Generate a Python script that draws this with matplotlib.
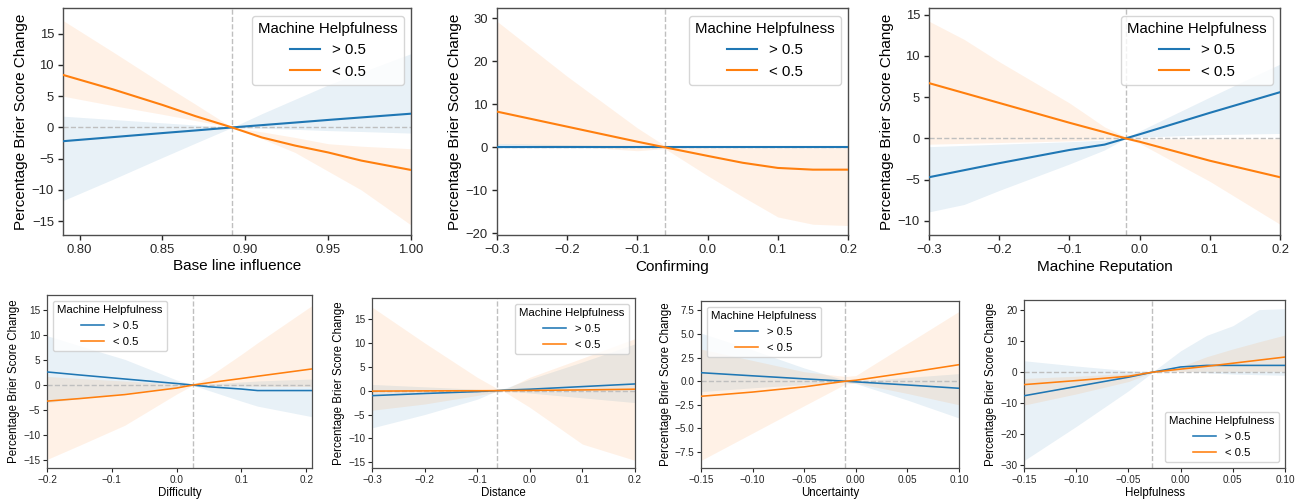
import matplotlib
matplotlib.use("Agg")
import matplotlib.pyplot as plt
from matplotlib.ticker import MultipleLocator

plt.rcParams['font.family'] = ['Liberation Sans', 'DejaVu Sans']

BLUE = '#1f77b4'
ORANGE = '#ff7f0e'
series_labels = ['> 0.5', '< 0.5']
legend_title = 'Machine Helpfulness'
y_label = 'Percentage Brier Score Change'

# ---------------- Panel 1: Base line influence ----------------
base_x = [0.79, 0.82, 0.85, 0.87, 0.892, 0.91, 0.93, 0.95, 0.97, 1.00]
base_hi_y = [-2.2, -1.55, -0.9, -0.48, 0.0, 0.37, 0.78, 1.2, 1.6, 2.2]
base_hi_lo = [-11.7, -8.3, -4.8, -2.5, 0.0, -0.15, -0.3, -0.5, -0.65, -0.9]
base_hi_up = [1.8, 1.27, 0.74, 0.39, 0.0, 2.2, 4.5, 6.8, 8.8, 11.8]
base_lo_y = [8.4, 6.1, 3.6, 1.8, 0.0, -1.6, -2.9, -4.0, -5.3, -6.8]
base_lo_lo = [5.0, 3.5, 2.1, 1.1, 0.0, -1.8, -4.0, -7.0, -10.0, -15.6]
base_lo_up = [17.1, 12.1, 7.0, 3.7, 0.0, -0.7, -1.6, -2.6, -3.0, -3.4]

# ---------------- Panel 2: Confirming ----------------
conf_x = [-0.3, -0.2, -0.1, -0.061, 0.0, 0.05, 0.1, 0.15, 0.2]
conf_hi_y = [0.0, 0.0, 0.0, 0.0, 0.0, 0.0, 0.0, 0.0, 0.0]
conf_hi_lo = [-0.1, -0.1, -0.05, -0.02, -0.05, -0.05, -0.05, -0.05, -0.05]
conf_hi_up = [0.9, 0.6, 0.25, 0.05, 0.05, 0.05, 0.05, 0.05, 0.05]
conf_lo_y = [8.3, 4.8, 1.3, 0.0, -2.0, -3.6, -4.8, -5.2, -5.2]
conf_lo_lo = [0.8, 0.3, -0.8, -0.3, -6.6, -11.5, -16.2, -17.9, -18.2]
conf_lo_up = [29.3, 16.5, 4.5, 0.4, -0.1, -0.1, -0.1, -0.1, -0.1]

# ---------------- Panel 3: Machine Reputation ----------------
rep_x = [-0.3, -0.25, -0.2, -0.1, -0.05, -0.02, 0.0, 0.1, 0.2]
rep_hi_y = [-4.7, -3.85, -3.0, -1.4, -0.75, 0.0, 0.5, 3.1, 5.6]
rep_hi_lo = [-8.9, -8.0, -6.3, -3.1, -1.4, 0.0, 0.15, 0.45, 0.6]
rep_hi_up = [-1.0, -0.85, -0.7, -0.4, -0.2, 0.0, 0.9, 5.0, 9.0]
rep_lo_y = [6.7, 5.5, 4.3, 1.9, 0.75, 0.0, -0.4, -2.7, -4.7]
rep_lo_lo = [-0.7, -0.6, -0.5, -0.3, -0.1, -0.05, -0.6, -5.2, -10.4]
rep_lo_up = [14.2, 12.0, 9.3, 4.3, 1.4, 0.2, -0.05, -0.05, -0.05]

# ---------------- Panel 4: Difficulty ----------------
diff_x = [-0.2, -0.15, -0.08, 0.0, 0.025, 0.05, 0.1, 0.125, 0.209]
diff_hi_y = [2.6, 2.0, 1.2, 0.3, 0.0, -0.35, -0.8, -1.1, -1.1]
diff_hi_lo = [-3.5, -2.7, -1.6, -0.4, -0.05, -1.1, -3.2, -4.2, -6.3]
diff_hi_up = [9.8, 7.8, 5.1, 1.0, 0.05, 0.2, 0.6, 0.8, 1.2]
diff_lo_y = [-3.2, -2.7, -1.9, -0.6, 0.0, 0.45, 1.3, 1.75, 3.2]
diff_lo_lo = [-14.8, -12.0, -8.0, -1.8, -0.05, -0.1, -0.2, -0.25, -0.3]
diff_lo_up = [1.7, 1.3, 0.8, 0.2, 0.05, 1.7, 6.1, 8.4, 15.8]

# ---------------- Panel 5: Distance ----------------
dist_x = [-0.3, -0.2, -0.1, -0.063, -0.05, 0.0, 0.1, 0.2]
dist_hi_y = [-1.05, -0.6, -0.2, 0.0, 0.1, 0.3, 0.85, 1.4]
dist_hi_lo = [-7.8, -5.0, -1.8, -0.05, 0.0, -0.5, -1.5, -2.5]
dist_hi_up = [1.3, 0.8, 0.3, 0.05, 0.4, 2.4, 6.0, 9.8]
dist_lo_y = [-0.1, -0.05, -0.02, 0.0, 0.02, 0.05, 0.15, 0.3]
dist_lo_lo = [-4.1, -2.8, -1.0, -0.3, -0.1, -3.5, -11.2, -14.6]
dist_lo_up = [17.5, 10.0, 2.8, 0.5, 0.1, 2.8, 6.8, 10.9]

# ---------------- Panel 6: Uncertainty ----------------
unc_x = [-0.15, -0.1, -0.05, -0.01, 0.0, 0.05, 0.1]
unc_hi_y = [0.9, 0.57, 0.25, 0.0, -0.07, -0.4, -0.75]
unc_hi_lo = [-1.1, -0.7, -0.35, -0.1, -0.25, -2.0, -3.9]
unc_hi_up = [5.1, 3.3, 1.4, 0.1, 0.0, 0.4, 0.8]
unc_lo_y = [-1.6, -1.15, -0.6, 0.0, 0.1, 0.9, 1.75]
unc_lo_lo = [-8.4, -5.5, -2.6, -0.3, -0.2, -1.3, -2.5]
unc_lo_up = [3.4, 2.2, 1.0, 0.5, 0.6, 4.0, 7.4]

# ---------------- Panel 7: Helpfulness ----------------
help_x = [-0.15, -0.1, -0.05, -0.027, 0.0, 0.025, 0.05, 0.075, 0.1]
help_hi_y = [-7.6, -4.6, -1.6, 0.0, 1.7, 2.2, 2.2, 2.2, 2.2]
help_hi_lo = [-28.5, -17.5, -6.0, -0.05, 0.5, -0.2, -0.6, -0.8, -1.0]
help_hi_up = [3.7, 2.0, 0.5, 0.05, 6.9, 11.9, 15.0, 20.2, 20.5]
help_lo_y = [-4.0, -2.7, -1.3, 0.0, 1.0, 1.9, 2.9, 3.9, 4.9]
help_lo_lo = [-10.6, -7.0, -3.0, -0.05, 0.2, 0.3, 0.3, 0.3, 0.3]
help_lo_up = [-2.0, -1.3, -0.4, 0.05, 1.8, 5.0, 7.5, 9.8, 12.0]

x_labels = ['Base line influence', 'Confirming', 'Machine Reputation',
            'Difficulty', 'Distance', 'Uncertainty', 'Helpfulness']
ref_x = [0.892, -0.061, -0.02, 0.025, -0.062, -0.01, -0.027]

panels = [
    (base_x, base_hi_y, base_hi_lo, base_hi_up, base_lo_y, base_lo_lo, base_lo_up),
    (conf_x, conf_hi_y, conf_hi_lo, conf_hi_up, conf_lo_y, conf_lo_lo, conf_lo_up),
    (rep_x, rep_hi_y, rep_hi_lo, rep_hi_up, rep_lo_y, rep_lo_lo, rep_lo_up),
    (diff_x, diff_hi_y, diff_hi_lo, diff_hi_up, diff_lo_y, diff_lo_lo, diff_lo_up),
    (dist_x, dist_hi_y, dist_hi_lo, dist_hi_up, dist_lo_y, dist_lo_lo, dist_lo_up),
    (unc_x, unc_hi_y, unc_hi_lo, unc_hi_up, unc_lo_y, unc_lo_lo, unc_lo_up),
    (help_x, help_hi_y, help_hi_lo, help_hi_up, help_lo_y, help_lo_lo, help_lo_up),
]

# layout / style (not data)
W, H = 1307, 500
boxes = [(63, 411, 8, 235), (497, 848, 8, 235), (929, 1280, 8, 235),
         (47, 312, 295, 468), (372, 635, 298, 468), (701, 959, 301, 468), (1024, 1285, 300, 468)]
xlims = [(0.79, 1.0), (-0.3, 0.2), (-0.3, 0.2), (-0.2, 0.209), (-0.3, 0.2), (-0.15, 0.1), (-0.15, 0.1)]
ylims = [(-17.2, 19.1), (-20.4, 32.4), (-11.7, 15.8), (-16.5, 17.9), (-16.2, 19.4), (-9.2, 8.5), (-30.9, 23.3)]
xsteps = [0.05, 0.1, 0.1, 0.1, 0.1, 0.05, 0.05]
ysteps = [5, 10, 5, 5, 5, 2.5, 10]
legend_locs = ['upper right', 'upper right', 'upper right', 'upper left', 'upper right', 'upper left', 'lower right']

fig = plt.figure(figsize=(W / 100, H / 100), dpi=100)

for i, (data, box) in enumerate(zip(panels, boxes)):
    x, hy, hl, hu, ly, ll, lu = data
    top = i < 3
    lab_fs = 11 if top else 8.3
    tick_fs = 9.4 if top else 7.2
    leg_fs = 10.8 if top else 8.2
    lw = 1.5 if top else 1.15
    l, r, t, b = box
    ax = fig.add_axes([l / W, 1 - b / H, (r - l) / W, (b - t) / H])
    ax.fill_between(x, hl, hu, color=BLUE, alpha=0.1, linewidth=0, zorder=1)
    ax.fill_between(x, ll, lu, color=ORANGE, alpha=0.1, linewidth=0, zorder=1)
    ax.axhline(0, color='0.75', ls='--', lw=1.0, zorder=2)
    ax.axvline(ref_x[i], color='0.75', ls='--', lw=1.0, zorder=2)
    ax.plot(x, hy, color=BLUE, lw=lw, label=series_labels[0], zorder=3)
    ax.plot(x, ly, color=ORANGE, lw=lw, label=series_labels[1], zorder=3)
    ax.set_xlim(*xlims[i])
    ax.set_ylim(*ylims[i])
    ax.xaxis.set_major_locator(MultipleLocator(xsteps[i]))
    ax.yaxis.set_major_locator(MultipleLocator(ysteps[i]))
    ax.set_xlabel(x_labels[i], fontsize=lab_fs, labelpad=2.5 if top else 1.5)
    ax.set_ylabel(y_label, fontsize=lab_fs, labelpad=3 if top else 2)
    for s in ax.spines.values():
        s.set_color('0.3')
        s.set_linewidth(1.0 if top else 0.9)
    ax.tick_params(direction='out', length=3.5 if top else 2.8, width=1.0 if top else 0.8,
                   colors='0.15', labelsize=tick_fs, pad=3 if top else 2)
    leg = ax.legend(title=legend_title, loc=legend_locs[i], fontsize=leg_fs,
                    title_fontsize=leg_fs, framealpha=0.8, edgecolor='0.8')

fig.savefig('out.png', dpi=100)
